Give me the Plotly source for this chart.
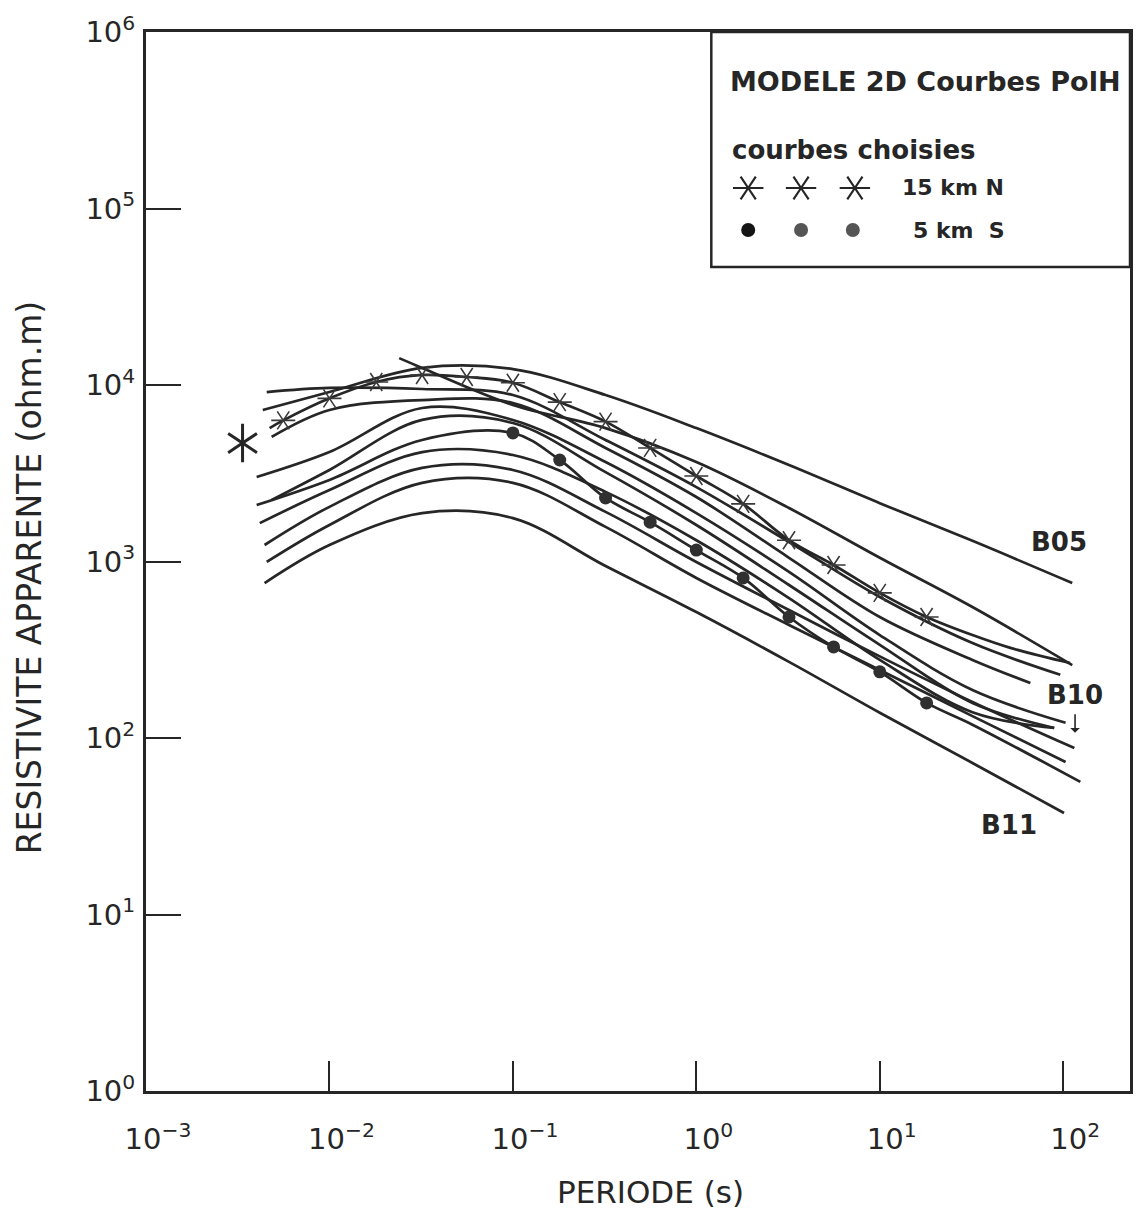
import math
import plotly.graph_objects as go

# ---------------------------------------------------------------------------
# Apparent resistivity curves (ohm.m) versus period (s), PolH mode, 2D model
# ---------------------------------------------------------------------------
T_GRID = [0.01, 0.032, 0.1, 0.32, 1, 3.2, 10, 32]

T_B05 = [0.00433] + T_GRID + [112]
R_B05 = [7220, 9120, 12500, 12300, 8770, 5700, 3520, 2140, 1310, 755]

T_C1 = [0.00455] + T_GRID + [96.4]
R_C1 = [9120, 9620, 9490, 8770, 4880, 2640, 1290, 629, 345, 228]

T_C2 = [0.024, 0.032, 0.1, 0.32, 1, 3.2, 10, 32, 112]
R_C2 = [14200, 12500, 7710, 5700, 3660, 2010, 1050, 552, 259]

T_C3 = [0.00484] + T_GRID + [66.2]
R_C3 = [5080, 7220, 8220, 7910, 4400, 2320, 1050, 485, 277, 205]

T_B10 = [0.00401] + T_GRID + [103]
R_B10 = [3010, 4170, 7410, 6340, 3660, 1880, 873, 383, 187, 122]

T_C5 = [0.00484] + T_GRID + [89.3]
R_C5 = [2230, 3300, 6340, 6090, 3210, 1610, 736, 337, 158, 114]

T_C6 = [0.00417] + T_GRID + [89.3]
R_C6 = [1650, 2540, 4170, 4010, 2480, 1320, 621, 277, 140, 114]

T_C7 = [0.00443] + T_GRID + [115]
R_C7 = [1240, 2040, 3390, 3300, 1910, 994, 531, 290, 160, 87.7]

T_C8 = [0.00455] + T_GRID + [103]
R_C8 = [994, 1610, 2790, 2790, 1570, 807, 437, 243, 133, 73.1]

T_B11 = [0.00443] + T_GRID + [101]
R_B11 = [755, 1240, 1880, 1760, 943, 517, 270, 139, 72.2, 37.6]

# chosen curve, 15 km N (asterisks)
T_N15 = [0.00472, 0.0056, 0.01, 0.018, 0.032, 0.056, 0.1, 0.18, 0.32, 0.56,
         1, 1.8, 3.2, 5.6, 10, 18, 32, 51.5, 109]
R_N15 = [5700, 6300, 8400, 10400, 11400, 11100, 10300, 8000, 6200, 4400,
         3050, 2120, 1320, 955, 664, 485, 383, 324, 266]
N15_MARKS = slice(1, 16)

# chosen curve, 5 km S (dots)
T_S5 = [0.00401, 0.01, 0.032, 0.1, 0.18, 0.32, 0.56, 1, 1.8, 3.2, 5.6, 10,
        18, 32, 124]
R_S5 = [2090, 2900, 4880, 5350, 3760, 2290, 1670, 1160, 807, 485, 328, 237,
        158, 119, 56.4]
S5_MARKS = slice(3, 13)

# isolated asterisk on the left of the bundle
T_STAR = [0.00336]
R_STAR = [4690]

X_TICKS = [1e-3, 1e-2, 1e-1, 1, 10, 100]
X_TEXT = ["10<sup>\u22123</sup>", "10<sup>\u22122</sup>", "10<sup>\u22121</sup>",
          "10<sup>0</sup>", "10<sup>1</sup>", "10<sup>2</sup>"]
Y_TICKS = [1, 10, 100, 1e3, 1e4, 1e5, 1e6]
Y_TEXT = ["10<sup>%d</sup>" % k for k in range(7)]

INK = "#262626"
FONT = "DejaVu Sans"

curves = [
    (T_B05, R_B05), (T_C1, R_C1), (T_C2, R_C2), (T_C3, R_C3),
    (T_B10, R_B10), (T_C5, R_C5), (T_C6, R_C6), (T_C7, R_C7),
    (T_C8, R_C8), (T_B11, R_B11), (T_N15, R_N15), (T_S5, R_S5),
]

fig = go.Figure()

for t, r in curves:
    fig.add_trace(go.Scatter(
        x=t, y=r, mode="lines",
        line=dict(color=INK, width=2.7, shape="spline", smoothing=1.0),
        hoverinfo="skip"))


def six_spoke(x, y, size, width, color, upright, xaxis="x", yaxis="y"):
    """Six-branch asterisk built from two three-branch symbols."""
    pair = ("y-up", "y-down") if upright else ("y-left", "y-right")
    for sym in pair:
        fig.add_trace(go.Scatter(
            x=x, y=y, mode="markers", xaxis=xaxis, yaxis=yaxis,
            marker=dict(symbol=sym, size=size, color=color,
                        line=dict(color=color, width=width)),
            hoverinfo="skip"))


# asterisks on the 15 km N curve
six_spoke(T_N15[N15_MARKS], R_N15[N15_MARKS], 15, 1.6, "#3a3a3a", False)

# dots on the 5 km S curve
fig.add_trace(go.Scatter(
    x=T_S5[S5_MARKS], y=R_S5[S5_MARKS], mode="markers",
    marker=dict(symbol="circle", size=13, color="#303030"),
    hoverinfo="skip"))

# isolated big asterisk
six_spoke(T_STAR, R_STAR, 24, 3, INK, True)

# legend symbols, drawn on an overlay axis spanning [0, 1] x [0, 1]
six_spoke([0.612, 0.6657, 0.7204], [0.8527] * 3, 19, 2.2, INK, False,
          xaxis="x2", yaxis="y2")
fig.add_trace(go.Scatter(
    x=[0.612, 0.6657, 0.7183], y=[0.813] * 3, mode="markers",
    xaxis="x2", yaxis="y2",
    marker=dict(symbol="circle", size=14, color=["#151515", "#555555", "#555555"]),
    hoverinfo="skip"))

fig.update_layout(
    width=1141, height=1212, autosize=False,
    margin=dict(l=146, r=8, t=32, b=121),
    paper_bgcolor="white", plot_bgcolor="white",
    showlegend=False,
    font=dict(family=FONT, color=INK),
    xaxis=dict(
        type="log", range=[-3, 2.364],
        tickvals=X_TICKS, ticktext=X_TEXT,
        ticks="inside", ticklen=30, tickwidth=2, tickcolor=INK,
        showline=True, linewidth=3, linecolor=INK, mirror=True,
        showgrid=False, zeroline=False,
        tickfont=dict(family=FONT, size=29, color=INK),
        ticklabelstandoff=20, ticklabelshift=12,
    ),
    yaxis=dict(
        type="log", range=[0, 6],
        tickvals=Y_TICKS, ticktext=Y_TEXT,
        ticks="inside", ticklen=35, tickwidth=2, tickcolor=INK,
        showline=True, linewidth=3, linecolor=INK, mirror=True,
        showgrid=False, zeroline=False,
        tickfont=dict(family=FONT, size=29, color=INK),
        ticklabelstandoff=2,
    ),
    xaxis2=dict(overlaying="x", anchor="y2", range=[0, 1], visible=False),
    yaxis2=dict(overlaying="y", anchor="x2", range=[0, 1], visible=False),
)

# legend frame
fig.add_shape(type="rect", xref="paper", yref="paper",
              x0=0.5745, x1=1.0, y0=0.778, y1=1.0,
              line=dict(color=INK, width=2.5), fillcolor="rgba(0,0,0,0)")

legend_texts = [
    ("MODELE 2D Courbes PolH", 0.5917, 0.9528, 27),
    ("courbes choisies", 0.5937, 0.8886, 26),
    ("15 km N", 0.766, 0.8527, 22),
    ("5 km  S", 0.7771, 0.813, 22),
]
for txt, x, y, s in legend_texts:
    fig.add_annotation(text=txt, xref="paper", yref="paper", x=x, y=y,
                       xanchor="left", yanchor="middle", showarrow=False,
                       font=dict(family=FONT, size=s, color=INK, weight="bold"))

# curve names
for txt, x, y in [("B05", 0.928, 0.5184), ("B10", 0.9443, 0.3739),
                  ("B11", 0.8774, 0.2512)]:
    fig.add_annotation(text=txt, xref="paper", yref="paper", x=x, y=y,
                       xanchor="center", yanchor="middle", showarrow=False,
                       font=dict(family=FONT, size=26, color=INK, weight="bold"))

# small arrow below the B10 label
fig.add_annotation(x=math.log10(116), y=math.log10(107), xref="x", yref="y",
                   ax=0, ay=-20, showarrow=True, arrowhead=1, arrowsize=1,
                   arrowwidth=1.6, arrowcolor=INK, text="")

# axis titles
fig.add_annotation(text="PERIODE (s)", xref="paper", yref="paper",
                   x=0.5127, y=-0.0955, xanchor="center", yanchor="middle",
                   showarrow=False, font=dict(family=FONT, size=31, color=INK))
fig.add_annotation(text="RESISTIVITE APPARENTE (ohm.m)", xref="paper", yref="paper",
                   x=-0.1175, y=0.4854, xanchor="center", yanchor="middle",
                   textangle=-90, showarrow=False,
                   font=dict(family=FONT, size=33, color=INK))

fig.write_html("out.html")
